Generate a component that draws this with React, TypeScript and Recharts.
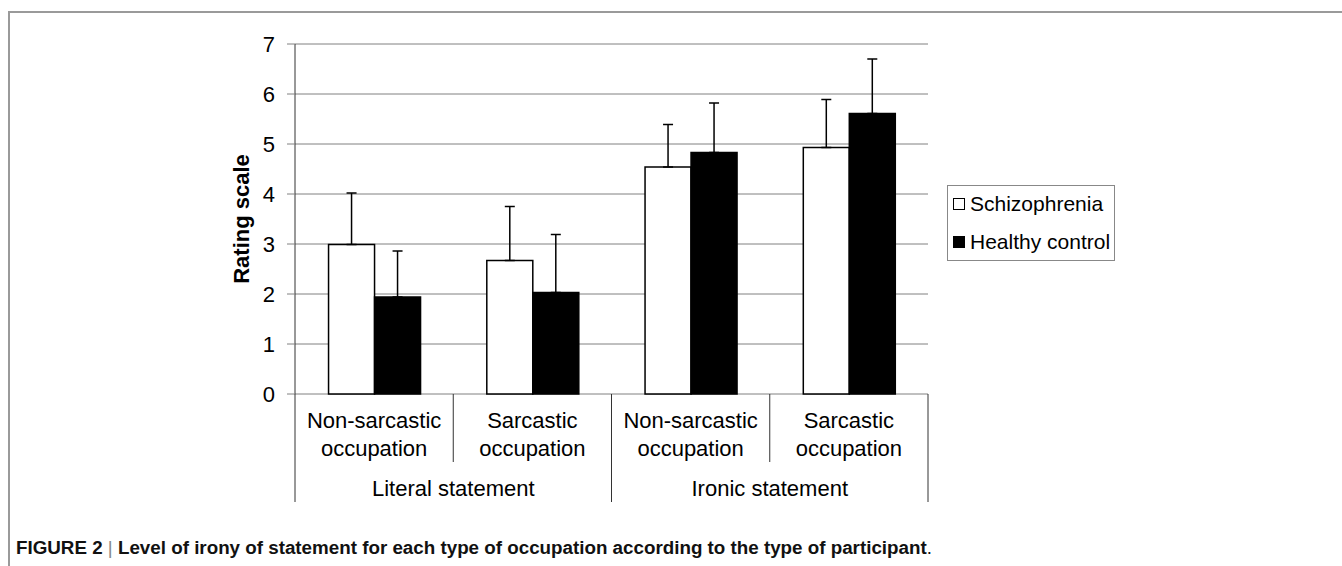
import { BarChart, Bar, XAxis, YAxis, CartesianGrid, ErrorBar, Legend } from 'recharts'

const categories = ['Non-sarcastic occupation', 'Sarcastic occupation', 'Non-sarcastic occupation', 'Sarcastic occupation']
const categoryLines = [
  ['Non-sarcastic', 'occupation'],
  ['Sarcastic', 'occupation'],
  ['Non-sarcastic', 'occupation'],
  ['Sarcastic', 'occupation'],
]
const groups = ['Literal statement', 'Ironic statement']
const seriesNames = ['Schizophrenia', 'Healthy control']
const schizophrenia = [2.99, 2.67, 4.54, 4.93]
const schizophreniaSd = [1.03, 1.08, 0.85, 0.96]
const healthy = [1.94, 2.03, 4.83, 5.61]
const healthySd = [0.92, 1.16, 0.99, 1.09]
const yTicks = [0, 1, 2, 3, 4, 5, 6, 7]
const frameTicks = [0, 0.5, 1, 1.5, 2, 2.5, 3, 3.5, 4]

const data = categories.map((c, i) => ({
  name: `${c} ${i}`,
  pos: i + 0.5,
  schizophrenia: schizophrenia[i],
  schizophreniaErr: [0, schizophreniaSd[i]],
  healthy: healthy[i],
  healthyErr: [0, healthySd[i]],
}))

const font = '"Liberation Sans", Arial, sans-serif'
const gridColor = '#808080'
const lineColor = '#333'

// category labels, inner/outer separators and group labels on one numeric axis
function FrameTick(props: any) {
  const { x, y, payload } = props
  const v = payload.value as number
  if (Number.isInteger(v)) {
    const tall = v % 2 === 0
    return (
      <g>
        <line x1={x} x2={x} y1={y} y2={y + (tall ? 108 : 68)} stroke={lineColor} strokeWidth={1} />
        {!tall && (
          <text x={x} y={y + 102} textAnchor="middle" fontSize={22} fill="#000" fontFamily={font}>
            {groups[(v - 1) / 2]}
          </text>
        )}
      </g>
    )
  }
  const [l1, l2] = categoryLines[Math.floor(v)]
  return (
    <text textAnchor="middle" fontSize={22} fill="#000" fontFamily={font}>
      <tspan x={x} y={y + 34}>{l1}</tspan>
      <tspan x={x} y={y + 62}>{l2}</tspan>
    </text>
  )
}

function LegendBox(props: any) {
  const payload = props.payload || []
  const items = seriesNames.map((n) => payload.find((p: any) => p.value === n)).filter(Boolean)
  return (
    <div
      style={{
        border: '1px solid #888',
        width: 166,
        height: 74,
        background: '#fff',
        fontFamily: font,
        fontSize: 21,
        color: '#000',
        position: 'relative',
      }}
    >
      {items.map((it: any, i: number) => (
        <div
          key={it.value}
          style={{ position: 'absolute', left: 5, top: i === 0 ? 4 : 42, height: 28, display: 'flex', alignItems: 'center' }}
        >
          <span
            style={{
              display: 'inline-block',
              width: 10,
              height: 10,
              border: '1px solid #000',
              background: it.color,
              marginRight: 5,
            }}
          />
          <span>{it.value}</span>
        </div>
      ))}
    </div>
  )
}

export default function App() {
  return (
    <div
      style={{
        position: 'absolute',
        left: 0,
        top: 0,
        width: 1342,
        height: 566,
        overflow: 'hidden',
        background: '#fff',
        fontFamily: font,
      }}
    >
      <div
        style={{
          position: 'absolute',
          left: 8,
          top: 11,
          width: 1400,
          height: 600,
          borderLeft: '2px solid #9a9a9a',
          borderTop: '2px solid #9a9a9a',
        }}
      />
      <div style={{ position: 'absolute', left: 0, top: 0 }}>
        <BarChart
          width={1342}
          height={566}
          data={data}
          margin={{ top: 44, right: 414, bottom: 64, left: 200 }}
          barCategoryGap="21.2%"
          barGap={0}
        >
          <CartesianGrid vertical={false} stroke={gridColor} strokeWidth={1} />
          <XAxis dataKey="name" hide height={0} />
          <XAxis
            xAxisId="frame"
            dataKey="pos"
            type="number"
            domain={[0, 4]}
            ticks={frameTicks}
            interval={0}
            allowDataOverflow
            axisLine={false}
            tickLine={false}
            tickSize={0}
            tickMargin={0}
            height={108}
            tick={<FrameTick />}
          />
          <YAxis
            domain={[0, 7]}
            ticks={yTicks}
            interval={0}
            width={95}
            tickSize={8}
            tickMargin={12}
            tickLine={{ stroke: gridColor }}
            axisLine={{ stroke: lineColor }}
            tick={{ fontSize: 22, fill: '#000', fontFamily: font }}
            label={{
              value: 'Rating scale',
              angle: -90,
              position: 'insideLeft',
              offset: 41,
              style: { textAnchor: 'middle', fontSize: 22, fontWeight: 'bold', fill: '#000', fontFamily: font },
            }}
          />
          <Legend
            layout="horizontal"
            verticalAlign="middle"
            align="center"
            wrapperStyle={{ left: 947, top: 185, width: 168, height: 76 }}
            content={<LegendBox />}
          />
          <Bar dataKey="schizophrenia" name={seriesNames[0]} fill="#fff" stroke="#000" strokeWidth={1.5} isAnimationActive={false}>
            <ErrorBar dataKey="schizophreniaErr" width={5} stroke="#000" strokeWidth={1.5} isAnimationActive={false} />
          </Bar>
          <Bar dataKey="healthy" name={seriesNames[1]} fill="#000" stroke="#000" strokeWidth={1.5} isAnimationActive={false}>
            <ErrorBar dataKey="healthyErr" width={5} stroke="#000" strokeWidth={1.5} isAnimationActive={false} />
          </Bar>
        </BarChart>
      </div>
      <div
        style={{
          position: 'absolute',
          left: 16,
          top: 537,
          fontSize: 18.8,
          fontWeight: 'bold',
          color: '#111',
          whiteSpace: 'nowrap',
        }}
      >
        FIGURE 2 <span style={{ fontWeight: 'normal', color: '#888' }}>|</span> Level of irony of statement for each type of occupation according to the type of participant<span style={{ fontWeight: 'normal' }}>.</span>
      </div>
    </div>
  )
}
